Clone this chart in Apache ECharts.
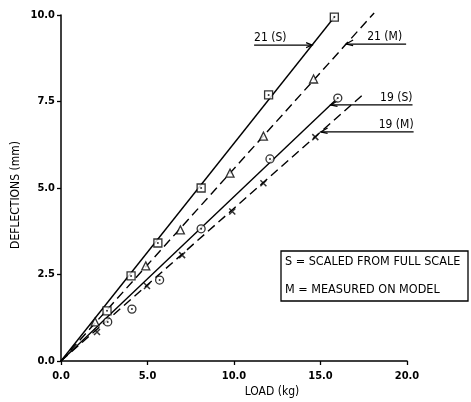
<!DOCTYPE html>
<html><head><meta charset="utf-8">
<script src="https://cdn.jsdelivr.net/npm/echarts@6/dist/echarts.min.js"></script>
<style>html,body{margin:0;padding:0;background:#fff}#c{width:471px;height:402px}</style>
</head><body><div id="c"></div>
<script>
// ---- data ----
const xTicks = [0, 5, 10, 15, 20];
const yTicks = [0, 2.5, 5, 7.5, 10];
const xName = 'LOAD (kg)';
const yName = 'DEFLECTIONS (mm)';
// measured / scaled points (load kg, deflection mm)
const pts21S = [[2.66,1.45],[4.05,2.46],[5.6,3.41],[8.1,5.0],[12.0,7.69],[15.8,9.94]];
const pts21M = [[1.97,1.13],[4.9,2.75],[6.9,3.79],[9.77,5.43],[11.7,6.5],[14.6,8.15]];
const pts19S = [[2.7,1.13],[4.1,1.5],[5.7,2.34],[8.1,3.82],[12.08,5.84],[16.0,7.6]];
const pts19M = [[2.08,0.84],[4.97,2.17],[7.0,3.06],[9.9,4.32],[11.7,5.14],[14.7,6.47]];
// fitted straight lines (start, end)
const fit21S = [[0,0],[15.85,9.97]];
const fit21M = [[0,0],[18.1,10.06]];
const fit19S = [[0,0],[16.0,7.6]];
const fit19M = [[0,0],[17.5,7.72]];
const curveNames = ['21 (S)', '21 (M)', '19 (S)', '19 (M)'];
const labelYs = [9.13, 9.16, 7.4, 6.62]; // deflection where each pointer meets its line
const legendLines = ['S = SCALED FROM FULL SCALE', 'M = MEASURED ON MODEL'];

// ---- chart ----
const FONT = '"DejaVu Sans Condensed","DejaVu Sans",sans-serif';
const chart = echarts.init(document.getElementById('c'), null, {renderer: 'canvas'});
const fits = [fit21S, fit21M, fit19S, fit19M];
const dashes = [false, true, false, true];

const series = [];
fits.forEach((f, i) => {
  series.push({type: 'line', data: f, symbol: 'none', clip: false, z: 1,
    lineStyle: {color: '#000', width: 1.4, type: dashes[i] ? [9, 5] : 'solid'}});
});
const open = {color: '#fff', borderColor: '#000', borderWidth: 1.3};
series.push({type: 'scatter', data: pts21S, symbol: 'rect', symbolSize: 8, itemStyle: open, z: 3});
series.push({type: 'scatter', data: pts21M, symbol: 'triangle', symbolSize: 8, itemStyle: open, z: 3});
series.push({type: 'scatter', data: pts19S, symbol: 'circle', symbolSize: 8, itemStyle: open, z: 3});
series.push({type: 'scatter', data: pts19M, symbol: 'path://M0,0 L10,10 M10,0 L0,10', symbolSize: 6,
  itemStyle: {color: 'none', borderColor: '#000', borderWidth: 1.5}, z: 3});
series.push({type: 'scatter', data: pts21S, symbol: 'circle', symbolSize: 2, itemStyle: {color: '#000'}, z: 4});
series.push({type: 'scatter', data: pts19S, symbol: 'circle', symbolSize: 2, itemStyle: {color: '#000'}, z: 4});

chart.setOption({
  animation: false,
  backgroundColor: '#fff',
  grid: {left: 61, right: 64, top: 15, bottom: 41},
  xAxis: {type: 'value', min: xTicks[0], max: xTicks[xTicks.length-1], interval: xTicks[1]-xTicks[0],
    splitLine: {show: false},
    axisLine: {lineStyle: {color: '#000', width: 1.5}},
    axisTick: {inside: false, length: 4, lineStyle: {color: '#000', width: 1.3}},
    axisLabel: {color: '#000', margin: 10, fontFamily: FONT, fontSize: 11, fontWeight: 'bold',
      formatter: v => v.toFixed(1)}},
  yAxis: {type: 'value', min: yTicks[0], max: yTicks[yTicks.length-1], interval: yTicks[1]-yTicks[0],
    splitLine: {show: false},
    axisLine: {lineStyle: {color: '#000', width: 1.5}},
    axisTick: {inside: false, length: 4, lineStyle: {color: '#000', width: 1.3}},
    axisLabel: {color: '#000', margin: 6, fontFamily: FONT, fontSize: 11, fontWeight: 'bold',
      formatter: v => v.toFixed(1)}},
  series: series
});

// annotations (pointer labels, axis names, legend box)
const P = (x, y) => chart.convertToPixel({gridIndex: 0}, [x, y]);
const g = [];
const txt = (x, y, s, align, vAlign, size, extra) => Object.assign({type: 'text', x: x, y: y,
  style: {text: s, fill: '#000', font: (size || 12) + 'px ' + FONT, textAlign: align, textVerticalAlign: vAlign}}, extra || {});
const line = (pts, w) => ({type: 'polyline', shape: {points: pts}, style: {stroke: '#000', lineWidth: w || 1.2, fill: null}});

// label layout: [side, underline length, text offset from far end]
const layout = [['left', 58, 0], ['right', 60, 4], ['right', 82, 0], ['right', 93, 0]];
fits.forEach((f, i) => {
  const yv = labelYs[i];
  const end = f[1];
  const tip = P(end[0] * yv / end[1], yv);
  const [side, len, off] = layout[i];
  if (side === 'left') {
    const x0 = tip[0] - len;
    g.push(line([[x0, tip[1]], [tip[0], tip[1]]]));
    g.push(line([[tip[0]-6, tip[1]-2.5], [tip[0], tip[1]], [tip[0]-6, tip[1]+2.5]]));
    g.push(txt(x0, tip[1]-1, curveNames[i], 'left', 'bottom', 12));
  } else {
    const x1 = tip[0] + len;
    g.push(line([[tip[0], tip[1]], [x1, tip[1]]]));
    g.push(line([[tip[0]+7, tip[1]-4], [tip[0], tip[1]], [tip[0]+7, tip[1]+1.5]]));
    g.push(txt(x1 - off, tip[1]-1, curveNames[i], 'right', 'bottom', 12));
  }
});
g.push(txt(272, 392, xName, 'center', 'middle', 12));
g.push(txt(16, 195, yName, 'center', 'middle', 12, {rotation: Math.PI/2}));
g.push({type: 'rect', shape: {x: 281, y: 251, width: 187, height: 50}, style: {fill: null, stroke: '#000', lineWidth: 1.3}});
g.push(txt(285, 262, legendLines[0], 'left', 'middle', 12.5));
g.push(txt(285, 290, legendLines[1], 'left', 'middle', 12.5));
chart.setOption({graphic: {elements: g}});
</script>
</body></html>
